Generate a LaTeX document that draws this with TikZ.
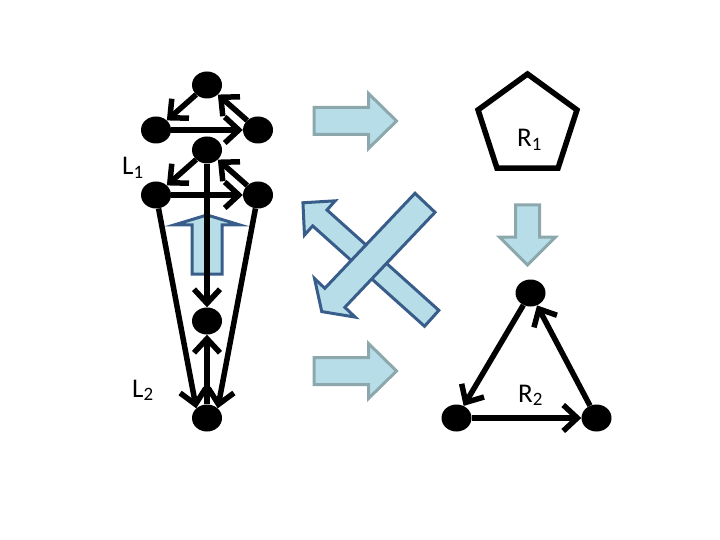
\documentclass[tikz,border=0pt]{standalone}
\usepackage{fontspec}
\setmainfont{Carlito}
\usetikzlibrary{arrows.meta,shapes.geometric}
\definecolor{paleblue}{RGB}{183,222,232}
\definecolor{greyteal}{RGB}{140,168,172}
\definecolor{darkblue}{RGB}{56,93,138}
\begin{document}
\begin{tikzpicture}[x=1pt, y=-1pt, >={Straight Barb[length=14pt,width=26pt]},
    every node/.style={font=\fontsize{27}{32}\selectfont},
    dot/.style={ellipse, fill, minimum width=30pt, minimum height=27pt, inner sep=0pt},
    link/.style={->, line width=5.5pt},
    greyblock/.style={fill=paleblue, draw=greyteal, line width=3pt, line join=miter},
    blueblock/.style={fill=paleblue, draw=darkblue, line width=3pt, line join=miter}]
  \useasboundingbox (0,0) rectangle (720,540);
  % block arrows: tail x / tail y / angle / length / shaft half width / head half width / head length
  \foreach \x/\y/\a/\len/\w/\W/\h in {314/121/0/82.5/13.5/27.5/28, 314/371/0/82.5/13.5/27.5/28, 527.5/205/-90/60/12/28/28}
    \draw[greyblock, shift={(\x,\y)}, rotate=\a] (0,-\w) -- ({\len-\h},-\w) -- ({\len-\h},-\W) -- (\len,0)
      -- ({\len-\h},\W) -- ({\len-\h},\w) -- (0,\w) -- cycle;
  \foreach \x/\y/\a/\len/\w/\W/\h in {207/274/90/59/15/33/10, 431.7/318.3/138.1/173/10.7/23/22.7, 425/202.8/226.5/150/13.8/28/19}
    \draw[blueblock, shift={(\x,\y)}, rotate=\a] (0,-\w) -- ({\len-\h},-\w) -- ({\len-\h},-\W) -- (\len,0)
      -- ({\len-\h},\W) -- ({\len-\h},\w) -- (0,\w) -- cycle;
  % graphs
  \node[dot] (t1) at (207,85) {};
  \node[dot] (l1) at (156,130) {};
  \node[dot] (r1) at (258,130) {};
  \node[dot] (t2) at (207,150) {};
  \node[dot] (l2) at (156,195) {};
  \node[dot] (r2) at (258,195) {};
  \node[dot] (mid) at (207,321) {};
  \node[dot] (bot) at (207,418) {};
  \node[dot] (rt) at (530.5,293) {};
  \node[dot] (rl) at (456.5,418) {};
  \node[dot] (rr) at (596.5,418) {};
  \foreach \s/\t in {t1/l1, l1/r1, r1/t1, t2/l2, l2/r2, r2/t2, t2/mid, bot/mid, rt/rl, rl/rr, rr/rt}
    \draw[link] (\s) -- (\t);
  \draw[link] (l2) -- (bot.north west);
  \draw[link] (r2) -- (bot.north east);
  \node[regular polygon, regular polygon sides=5, draw, line width=5.5pt, minimum size=104pt, inner sep=0pt] (pent) at (527.5,126) {};
  % labels
  \node[anchor=base west, inner sep=0pt] (labL1) at (122,175) {L\textsubscript{1}};
  \node[anchor=base west, inner sep=0pt] (labL2) at (132,397) {L\textsubscript{2}};
  \node[anchor=base west, inner sep=0pt] (labR1) at (517,147) {R\textsubscript{1}};
  \node[anchor=base west, inner sep=0pt] (labR2) at (518,402) {R\textsubscript{2}};
\end{tikzpicture}
\end{document}
